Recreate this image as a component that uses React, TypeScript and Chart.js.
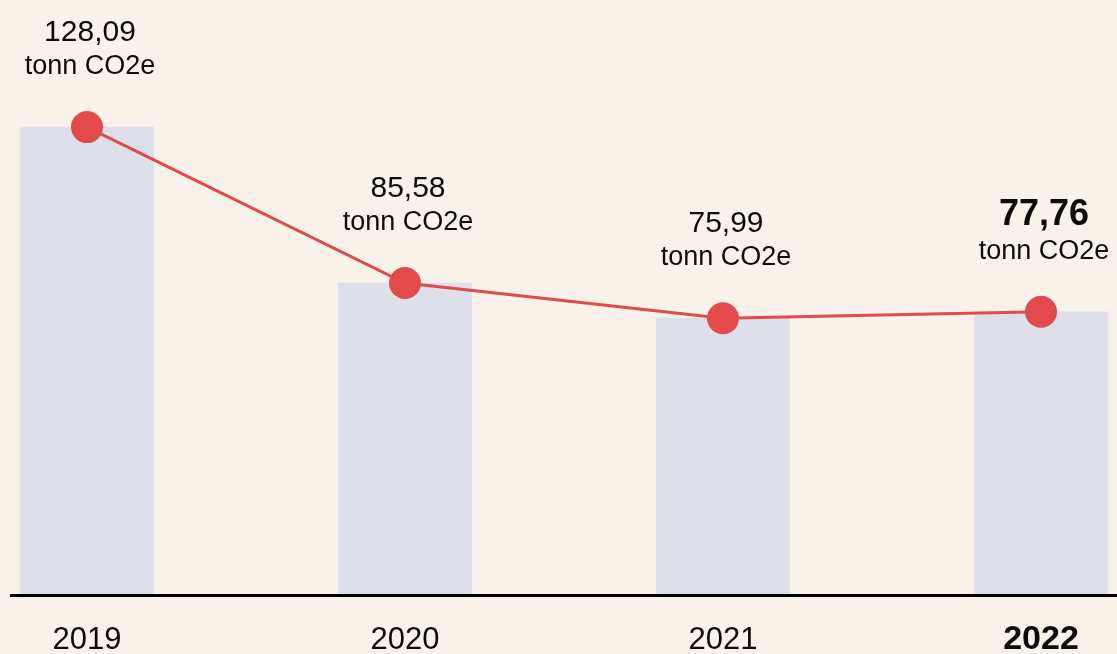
import React, { useEffect, useRef } from "react";
import { Chart, registerables } from "chart.js";

Chart.register(...registerables);

const years = ["2019", "2020", "2021", "2022"];
const emissions = [128.09, 85.58, 75.99, 77.76];
const unitLabel = "tonn CO2e";
const highlightIndex = 3;

const BG = "#f9f2eb";
const BAR = "#dde0e8";
const RED = "#e34a4b";
const TEXT = "#0d0d0d";
const FONT = "'Liberation Sans', Arial, sans-serif";

const fmt = (v: number) => v.toFixed(2).replace(".", ",");

export default function App() {
  const ref = useRef<HTMLCanvasElement | null>(null);

  useEffect(() => {
    if (!ref.current) return;

    const overlay = {
      id: "overlay",
      afterDatasetsDraw(chart: any) {
        const ctx = chart.ctx;
        const y0 = chart.scales.y.getPixelForValue(0);
        ctx.save();
        ctx.fillStyle = "#000";
        ctx.fillRect(10, y0 - 3, chart.width - 10, 3);

        const meta = chart.getDatasetMeta(0);
        ctx.fillStyle = TEXT;
        ctx.textAlign = "center";
        ctx.textBaseline = "alphabetic";
        meta.data.forEach((pt: any, i: number) => {
          const bold = i === highlightIndex;
          const unitY = pt.y - 53;
          ctx.font = bold ? `bold 36px ${FONT}` : `30px ${FONT}`;
          ctx.fillText(fmt(emissions[i]), pt.x + 3, unitY - (bold ? 34 : 33));
          ctx.font = `27px ${FONT}`;
          ctx.fillText(unitLabel, pt.x + 3, unitY);
        });
        ctx.restore();
      },
    };

    const chart = new Chart(ref.current, {
      type: "bar",
      data: {
        labels: years,
        datasets: [
          {
            type: "line",
            data: emissions,
            borderColor: RED,
            borderWidth: 3,
            pointRadius: 16,
            pointHoverRadius: 16,
            pointBackgroundColor: RED,
            pointBorderWidth: 0,
            tension: 0,
            order: 0,
            clip: false,
          } as any,
          {
            type: "bar",
            data: emissions,
            backgroundColor: BAR,
            barThickness: 133,
            order: 1,
            clip: false,
          } as any,
        ],
      },
      options: {
        animation: false,
        responsive: true,
        maintainAspectRatio: false,
        layout: {
          autoPadding: false,
          padding: { left: 87, right: 76, top: 10, bottom: -29 },
        },
        plugins: { legend: { display: false }, tooltip: { enabled: false } },
        scales: {
          x: {
            offset: false,
            grid: { display: false, drawTicks: false },
            border: { display: false },
            ticks: {
              autoSkip: false,
              maxRotation: 0,
              padding: 25,
              color: TEXT,
              font: (c: any) => ({
                family: FONT,
                size: c.index === highlightIndex ? 34 : 31,
                weight: c.index === highlightIndex ? "bold" : "normal",
                lineHeight: "36px",
              }),
            },
          },
          y: { display: false, min: 0, max: 160 },
        },
      } as any,
      plugins: [overlay],
    });

    return () => chart.destroy();
  }, []);

  return (
    <div
      style={{
        position: "fixed",
        left: 0,
        top: 0,
        width: 1117,
        height: 654,
        background: BG,
      }}
    >
      <canvas ref={ref} />
    </div>
  );
}
